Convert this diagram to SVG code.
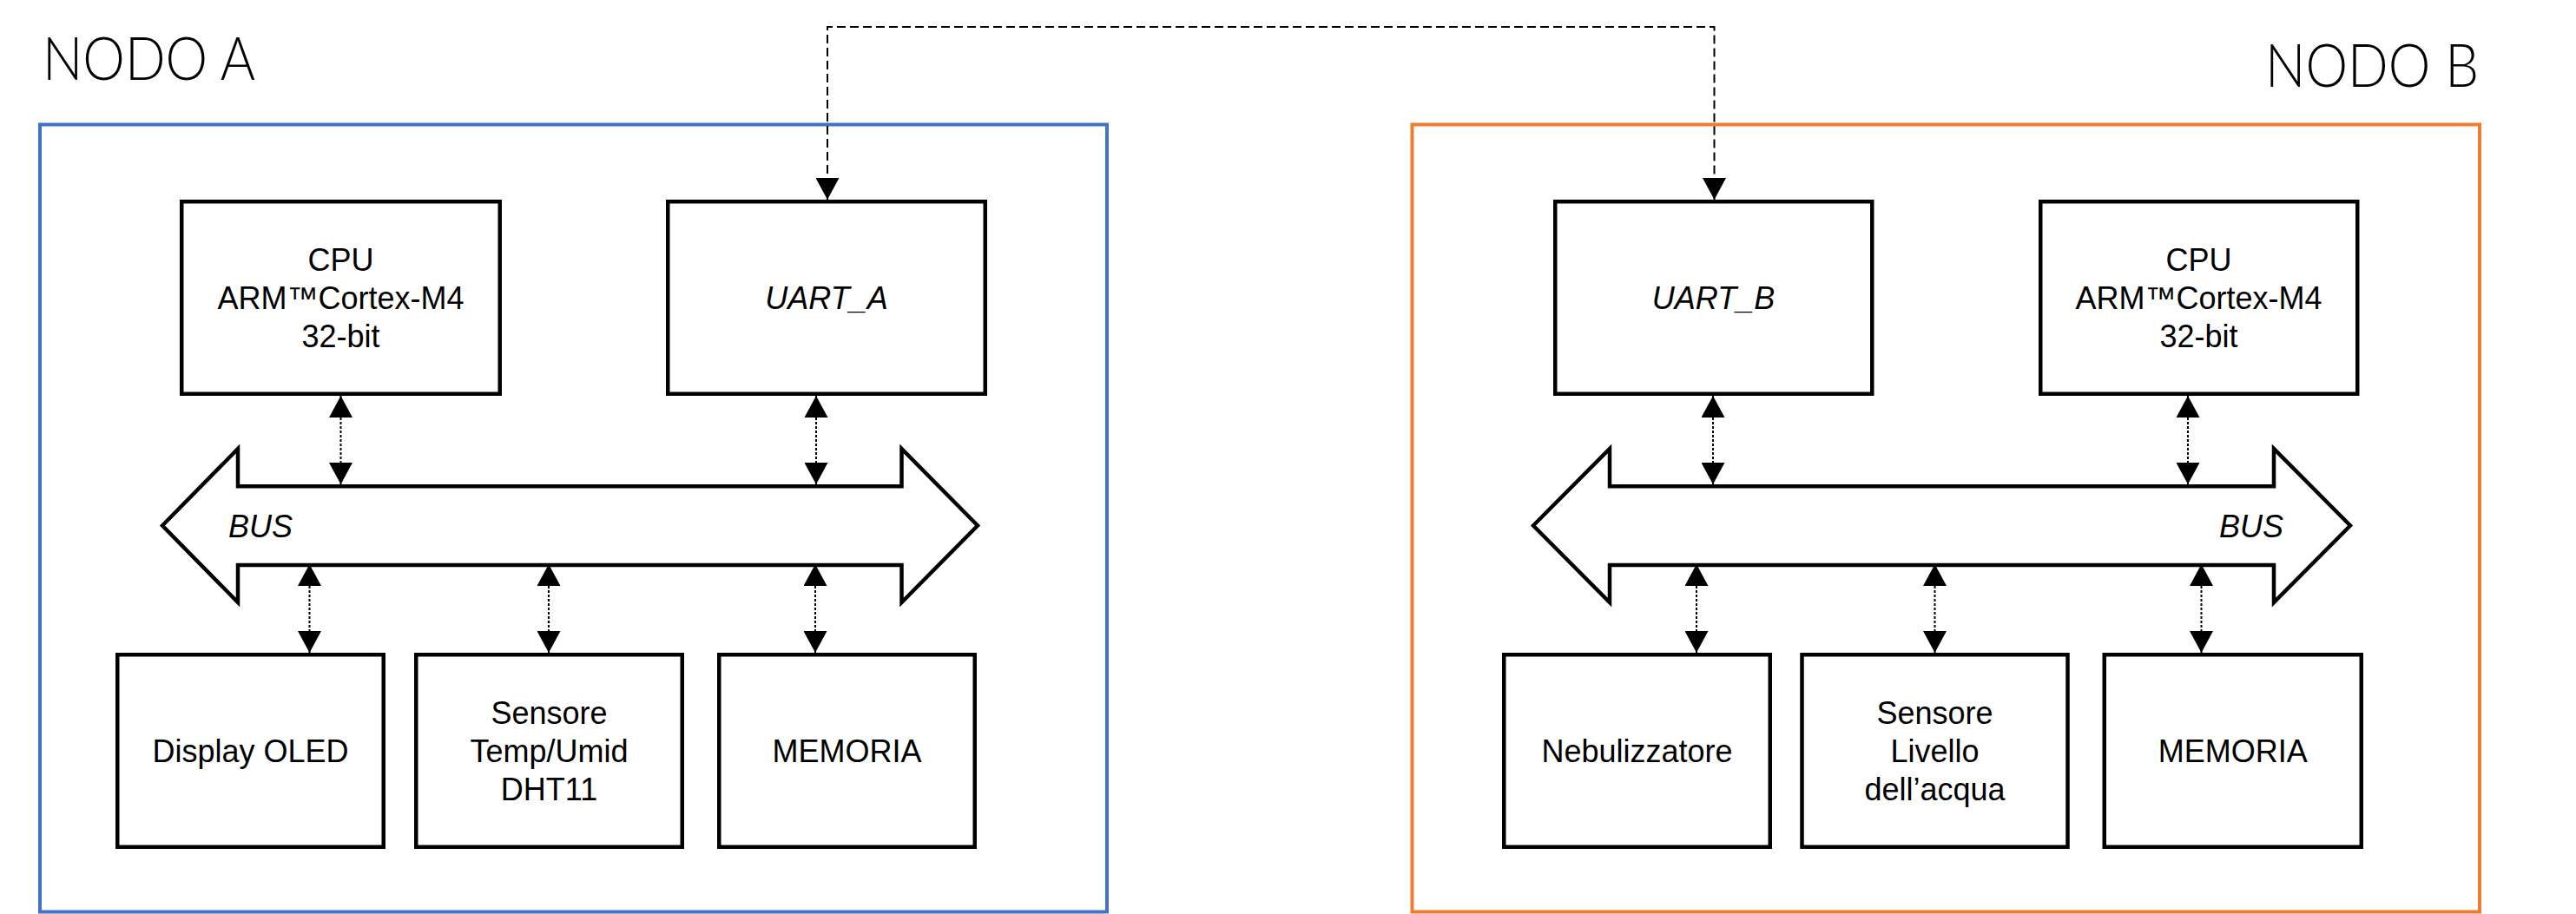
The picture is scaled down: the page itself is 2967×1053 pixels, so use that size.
<svg xmlns="http://www.w3.org/2000/svg" width="2967" height="1053" viewBox="0 0 2967 1053">
<defs>
<style>
.frameA{fill:none;stroke:#4472C4;stroke-width:4}
.frameB{fill:none;stroke:#ED7D31;stroke-width:4}
.title{font-family:Lato,"Open Sans","Liberation Sans",sans-serif;font-weight:300;font-size:69px;fill:#000}
.box{fill:#fff;stroke:#000;stroke-width:4.5}
.bus{fill:#fff;stroke:#000;stroke-width:4.5;stroke-linejoin:miter}
.lbl{font-family:"Liberation Sans",Arial,sans-serif;font-size:36px;fill:#000;text-anchor:middle}
.it{font-style:italic}
.dot{fill:none;stroke:#000;stroke-width:2;stroke-dasharray:3 2}
.dash{fill:none;stroke:#000;stroke-width:2;stroke-dasharray:10 5}
</style>
<marker id="ah" viewBox="0 0 25 27" refX="25" refY="13.5" markerWidth="25" markerHeight="27" markerUnits="userSpaceOnUse" orient="auto-start-reverse">
<path d="M0,0 L25,13.5 L0,27 z" fill="#000"/>
</marker>
</defs>
<rect width="2967" height="1053" fill="#fff"/>

<g id="nodoA">
<rect class="frameA" x="46" y="143.5" width="1229" height="907"/>
<text class="title" x="49" y="92" textLength="245" lengthAdjust="spacingAndGlyphs">NODO A</text>
</g>
<g id="nodoB">
<rect class="frameB" x="1626.5" y="143.5" width="1229.5" height="907"/>
<text class="title" x="2609" y="100" textLength="246" lengthAdjust="spacingAndGlyphs">NODO B</text>
</g>

<g id="busA">
<path class="bus" d="M187,605.5 L274,517 L274,560.3 L1038.5,560.3 L1038.5,517 L1126,605.5 L1038.5,694 L1038.5,651 L274,651 L274,694 Z"/>
<text class="lbl it" x="300" y="619">BUS</text>
</g>
<g id="busB">
<path class="bus" d="M1766,605.5 L1854,517 L1854,560.3 L2619,560.3 L2619,517 L2707,605.5 L2619,694 L2619,651 L1854,651 L1854,694 Z"/>
<text class="lbl it" x="2593" y="619">BUS</text>
</g>

<g id="cpuA">
<rect class="box" x="209.25" y="232.25" width="366.5" height="221.5"/>
<text class="lbl" x="392.5" y="312">CPU</text>
<text class="lbl" x="392.5" y="356">ARM™Cortex-M4</text>
<text class="lbl" x="392.5" y="400">32-bit</text>
</g>
<g id="uartA">
<rect class="box" x="769.25" y="232.25" width="365.5" height="221.5"/>
<text class="lbl it" x="952" y="356">UART_A</text>
</g>
<g id="displayA">
<rect class="box" x="135.25" y="754.25" width="306.5" height="221.5"/>
<text class="lbl" x="288.5" y="878">Display OLED</text>
</g>
<g id="sensoreA">
<rect class="box" x="479.25" y="754.25" width="306.5" height="221.5"/>
<text class="lbl" x="632.5" y="834">Sensore</text>
<text class="lbl" x="632.5" y="878">Temp/Umid</text>
<text class="lbl" x="632.5" y="922">DHT11</text>
</g>
<g id="memoriaA">
<rect class="box" x="828.25" y="754.25" width="294.5" height="221.5"/>
<text class="lbl" x="975.5" y="878">MEMORIA</text>
</g>

<g id="uartB">
<rect class="box" x="1791.25" y="232.25" width="365" height="221.5"/>
<text class="lbl it" x="1973.5" y="356">UART_B</text>
</g>
<g id="cpuB">
<rect class="box" x="2350.25" y="232.25" width="365" height="221.5"/>
<text class="lbl" x="2532.5" y="312">CPU</text>
<text class="lbl" x="2532.5" y="356">ARM™Cortex-M4</text>
<text class="lbl" x="2532.5" y="400">32-bit</text>
</g>
<g id="nebulizzatore">
<rect class="box" x="1732.25" y="754.25" width="306.5" height="221.5"/>
<text class="lbl" x="1885.5" y="878">Nebulizzatore</text>
</g>
<g id="sensoreB">
<rect class="box" x="2075.5" y="754.25" width="306" height="221.5"/>
<text class="lbl" x="2228.5" y="834">Sensore</text>
<text class="lbl" x="2228.5" y="878">Livello</text>
<text class="lbl" x="2228.5" y="922">dell’acqua</text>
</g>
<g id="memoriaB">
<rect class="box" x="2423.75" y="754.25" width="296" height="221.5"/>
<text class="lbl" x="2571.75" y="878">MEMORIA</text>
</g>

<g id="connectors">
<path class="dash" d="M953,230 V31 H1974.5 V230" marker-start="url(#ah)" marker-end="url(#ah)"/>
<line class="dot" x1="392.5" y1="456" x2="392.5" y2="558" marker-start="url(#ah)" marker-end="url(#ah)"/>
<line class="dot" x1="940" y1="456" x2="940" y2="558" marker-start="url(#ah)" marker-end="url(#ah)"/>
<line class="dot" x1="356.5" y1="650" x2="356.5" y2="752" marker-start="url(#ah)" marker-end="url(#ah)"/>
<line class="dot" x1="632" y1="650" x2="632" y2="752" marker-start="url(#ah)" marker-end="url(#ah)"/>
<line class="dot" x1="939" y1="650" x2="939" y2="752" marker-start="url(#ah)" marker-end="url(#ah)"/>
<line class="dot" x1="1973" y1="456" x2="1973" y2="558" marker-start="url(#ah)" marker-end="url(#ah)"/>
<line class="dot" x1="2520" y1="456" x2="2520" y2="558" marker-start="url(#ah)" marker-end="url(#ah)"/>
<line class="dot" x1="1954" y1="650" x2="1954" y2="752" marker-start="url(#ah)" marker-end="url(#ah)"/>
<line class="dot" x1="2228.5" y1="650" x2="2228.5" y2="752" marker-start="url(#ah)" marker-end="url(#ah)"/>
<line class="dot" x1="2535.5" y1="650" x2="2535.5" y2="752" marker-start="url(#ah)" marker-end="url(#ah)"/>
</g>
</svg>
